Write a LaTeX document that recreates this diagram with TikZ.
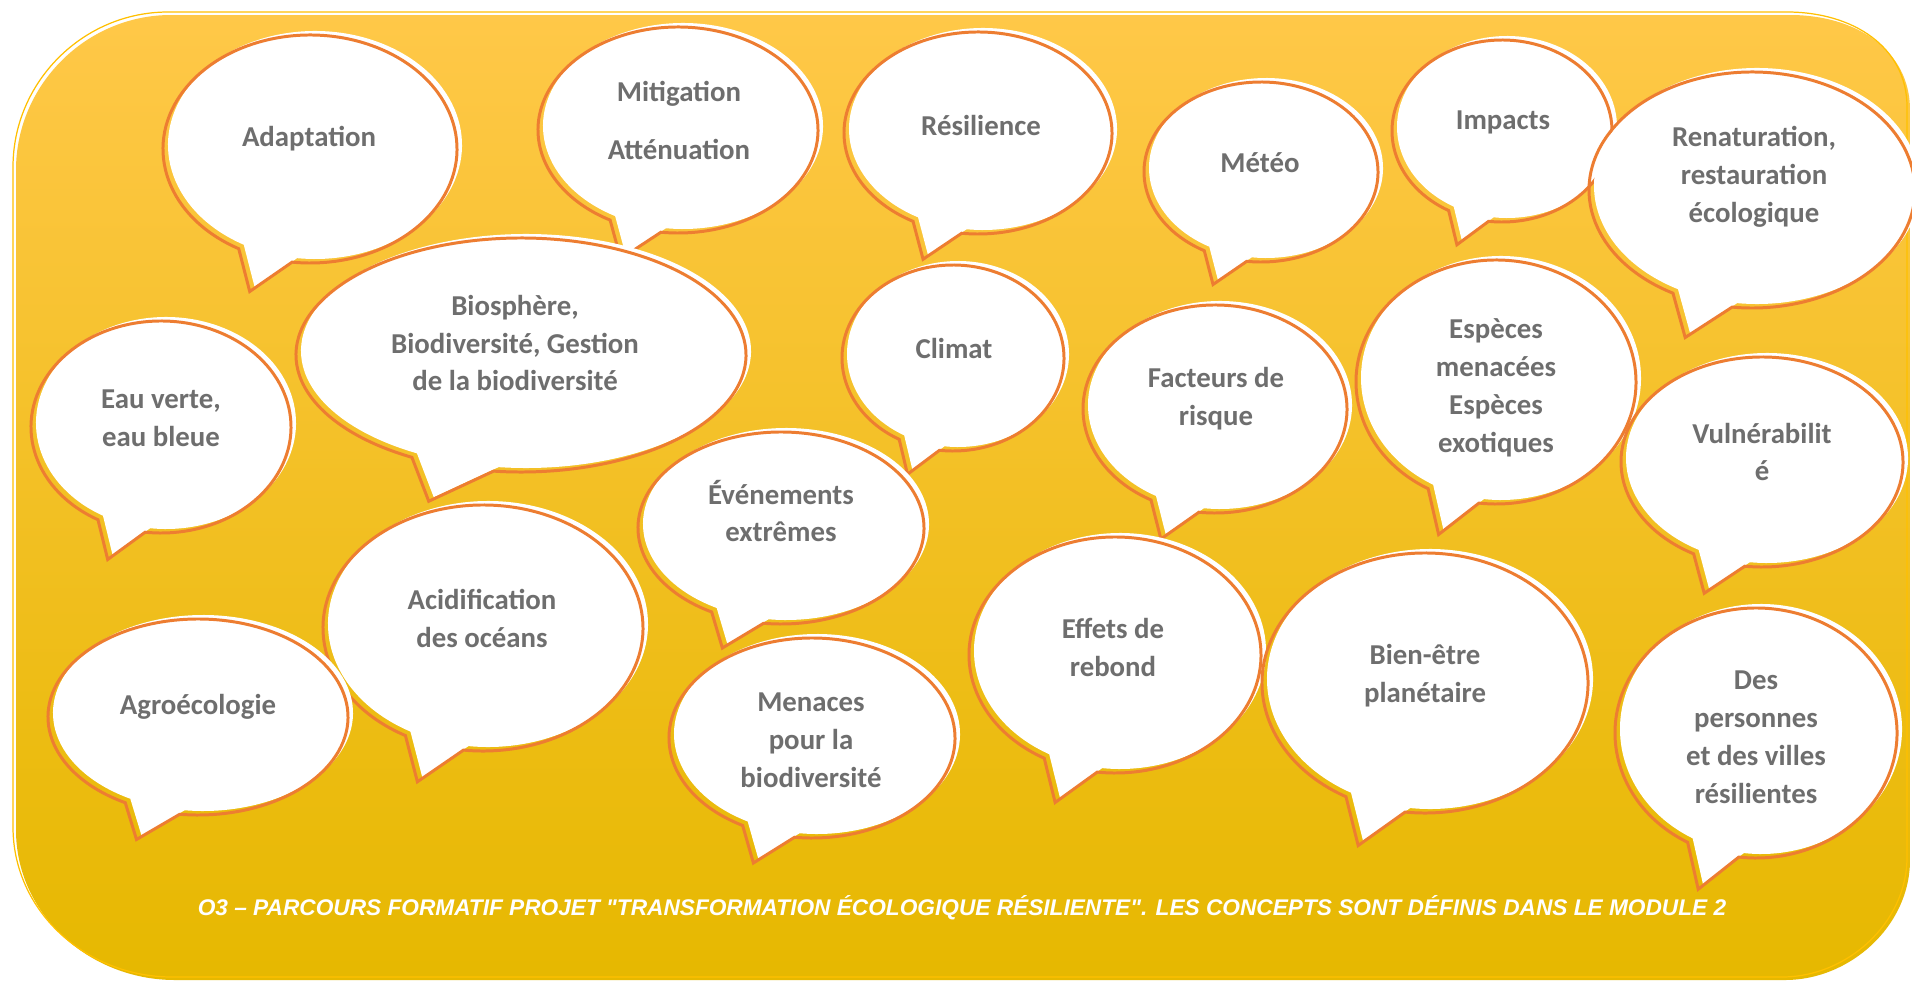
\documentclass[tikz,border=0pt]{standalone}
\usepackage{fontspec}
\setmainfont{Carlito}
\newfontfamily\captionfont{Liberation Sans}[BoldItalicFont={* Bold Italic}]
\usetikzlibrary{calc}

\definecolor{bubbleorange}{RGB}{237,125,49}
\definecolor{labelgray}{RGB}{110,110,110}
\definecolor{bgtop}{RGB}{255,200,72}
\definecolor{bgmid}{RGB}{253,197,14}
\definecolor{bgbottom}{RGB}{230,184,0}
\definecolor{bgedge}{RGB}{255,192,0}

\tikzset{
  bubbleline/.style={draw=bubbleorange, line width=1.7pt},
  bubblefill/.style={fill=white},
  bubbletext/.style={text=labelgray, font=\bfseries\fontsize{16.4}{21.6}\selectfont, align=center, inner sep=0pt},
  captiontext/.style={text=white, font=\captionfont\bfseries\itshape\fontsize{12.9}{15}\selectfont, inner sep=0pt},
  bgline/.style={draw=bgedge, line width=0.7pt}
}

% speech bubble: centre x, centre y, x radius, y radius
\newcommand{\bubble}[4]{%
  \fill[bubblefill, shift={(#1+5,#2-4)}] (119:#3 and #4)
    arc[start angle=119, end angle=457, x radius=#3, y radius=#4]
    -- (-0.41*#3,1.25*#4) -- cycle;
  \draw[bubbleline, shift={(#1,#2)}] (119:#3 and #4)
    arc[start angle=119, end angle=457, x radius=#3, y radius=#4]
    -- (-0.41*#3,1.25*#4) -- cycle;
}

\begin{document}
\begin{tikzpicture}[x=0.02cm, y=-0.02cm]
\fill[white] (0,0) rectangle (1912,984);
\useasboundingbox (0,0) rectangle (1912,984);

% background
\shade[top color=bgtop, middle color=bgmid, bottom color=bgbottom]
  (16,170) .. controls (16,85) and (86,15) .. (171,15)
  -- (1790,15) .. controls (1856,15) and (1910,50) .. (1910,110)
  -- (1910,860) .. controls (1910,926) and (1850,980) .. (1785,980)
  -- (175,980) .. controls (90,980) and (16,915) .. (16,830)
  -- cycle;
\draw[bgline, shift={(-3,-3)}]
  (16,170) .. controls (16,85) and (86,15) .. (171,15)
  -- (1790,15) .. controls (1856,15) and (1910,50) .. (1910,110)
  -- (1910,860) .. controls (1910,926) and (1850,980) .. (1785,980)
  -- (175,980) .. controls (90,980) and (16,915) .. (16,830)
  -- cycle;

% top row
\bubble{310}{149}{147}{114}
\node[bubbletext] (adaptation) at (309,139) {Adaptation};
\bubble{678}{130}{140}{103}
\node[bubbletext] (mitigation) at (679,120) {Mitigation\\[0.4cm]Atténuation};
\bubble{978}{133}{134}{101}
\node[bubbletext] (resilience) at (981,125) {Résilience};
\bubble{1261}{172}{117}{90}
\node[bubbletext] (meteo) at (1260,163) {Météo};
\bubble{1502}{131}{110}{91}
\node[bubbletext] (impacts) at (1503,122) {Impacts};
\bubble{1752}{190}{163}{118}
\node[bubbletext] (renaturation) at (1754,177) {Renaturation,\\restauration\\écologique};

% second row
\bubble{521}{355}{225}{117}
\node[bubbletext] (biosphere) at (515,343) {Biosphère,\\Biodiversité, Gestion\\de la biodiversité};
\bubble{953}{358}{111}{93}
\node[bubbletext] (climat) at (954,348) {Climat};
\bubble{161}{427}{130}{106}
\node[bubbletext] (eauverte) at (161,418) {Eau verte,\\eau bleue};
\bubble{1215}{409}{132}{104}
\node[bubbletext] (facteurs) at (1216,399) {Facteurs de\\risque};
\bubble{1496}{382}{140}{122}
\node[bubbletext] (especes) at (1496,388) {Espèces\\menacées\\Espèces\\exotiques};
\bubble{1762}{462}{141}{105}
\node[bubbletext] (vulnerabilite) at (1762,452) {Vulnérabilit\\é};

% third row
\bubble{781}{528}{143}{96}
\node[bubbletext] (evenements) at (781,511) {Événements\\extrêmes};
\bubble{483}{628}{160}{123}
\node[bubbletext] (acidification) at (482,618) {Acidification\\des océans};
\bubble{198}{717}{150}{98}
\node[bubbletext] (agroecologie) at (198,707) {Agroécologie};
\bubble{812}{738}{143}{100}
\node[bubbletext] (menaces) at (811,740) {Menaces\\pour la\\biodiversité};
\bubble{1115}{655}{146}{118}
\node[bubbletext] (effets) at (1113,647) {Effets de\\rebond};
\bubble{1425}{683}{163}{130}
\node[bubbletext] (bienetre) at (1425,676) {Bien-être\\planétaire};
\bubble{1756}{733}{141}{125}
\node[bubbletext] (personnes) at (1756,737) {Des\\personnes\\et des villes\\résilientes};

% caption
\node[captiontext] (legende) at (962,908) {O3 – PARCOURS FORMATIF PROJET "TRANSFORMATION ÉCOLOGIQUE RÉSILIENTE". LES CONCEPTS SONT DÉFINIS DANS LE MODULE 2};
\end{tikzpicture}
\end{document}
